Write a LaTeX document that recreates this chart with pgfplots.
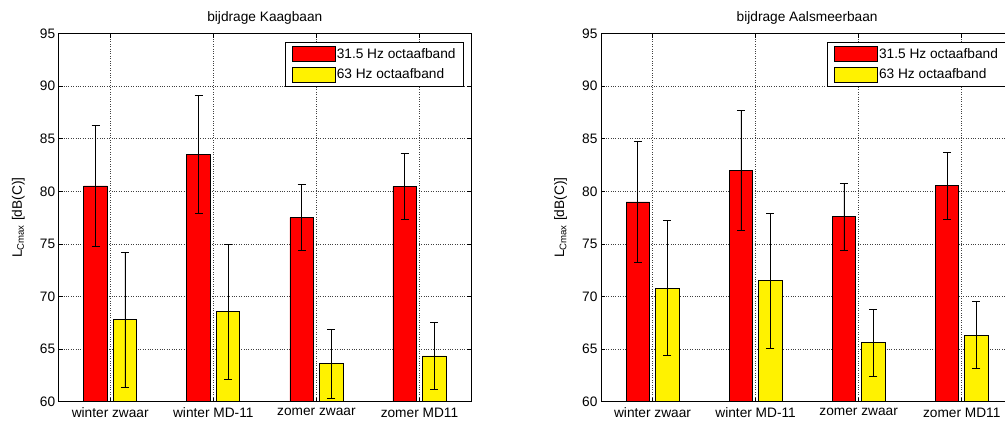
\documentclass[border=0pt]{standalone}
\usepackage{fontspec}
\setmainfont{Liberation Sans}
\usepackage{pgfplots}
\usepackage{pgfplotstable}
\pgfplotsset{compat=1.18}

\pgfplotstableread{
x r rE y yE
1 80.52 5.78 67.8 6.4
2 83.5 5.6 68.55 6.42
3 77.5 3.15 63.6 3.25
4 80.45 3.15 64.35 3.2
}\kaag
\pgfplotstableread{
x r rE y yE
1 79.0 5.73 70.8 6.42
2 82.0 5.74 71.5 6.42
3 77.6 3.17 65.6 3.19
4 80.55 3.17 66.33 3.19
}\aals

\newcommand\fs{\fontsize{13.7}{16}\selectfont}

\pgfplotsset{
  mystyle/.style={
    scale only axis, width=412.3pt, height=368pt,
    xmin=0.5, xmax=4.5, ymin=60, ymax=95,
    xtick={1,2,3,4},
    xticklabels={winter zwaar, winter MD-11, zomer zwaar, zomer MD11},
    ytick={60,65,...,95},
    tick align=inside, tick pos=both, major tick length=4pt,
    grid=major, grid style={dotted, black!75, line width=0.7pt},
    axis line style={black, line width=0.8pt},
    every tick/.style={black, line width=0.8pt},
    font=\fs,
    tick label style={font=\fs},
    xticklabel style={yshift=-2.5pt},
    label style={font=\fs},
    /pgf/number format/assume math mode=true,
    ylabel={L\textsubscript{Cmax} [dB(C)]},
    ylabel style={at={(axis description cs:-0.098,0.5)}, anchor=center},
    title style={font=\fs, at={(axis description cs:0.5,1)}, anchor=south, yshift=0pt},
    legend style={at={(0.983,0.978)}, anchor=north east, draw=black, line width=0.8pt,
      inner xsep=7pt, inner ysep=4pt, row sep=5pt, font=\fs,
      nodes={inner sep=1pt, anchor=west}},
    legend cell align=left,
  },
  mybar/.style={ybar, bar width=0.2286, bar shift=0, fill=#1, draw=black, line width=0.7pt,
    legend image code/.code={\draw[fill=#1, draw=black, line width=0.7pt] (0pt,-7.5pt) rectangle (43pt,7.5pt);},
    error bars/y dir=both, error bars/y explicit,
    error bars/error bar style={black, line width=0.7pt},
    error bars/error mark options={black, rotate=90, mark size=4pt, line width=0.7pt}},
}

\begin{document}
\begin{tikzpicture}
\useasboundingbox (0pt,0pt) rectangle (1005pt,421pt);
\begin{scope}
\clip (0pt,0pt) rectangle (1005pt,421pt);
\begin{axis}[mystyle, at={(58.7pt,19.3pt)}, anchor=south west, title={bijdrage Kaagbaan}]
\addplot[mybar=red] table[x expr=\thisrow{x}-0.1429, y=r, y error=rE] {\kaag};
\addplot[mybar=yellow] table[x expr=\thisrow{x}+0.1429, y=y, y error=yE] {\kaag};
\legend{31.5 Hz octaafband, 63 Hz octaafband}
\end{axis}
\begin{axis}[mystyle, at={(601pt,19.3pt)}, anchor=south west, title={bijdrage Aalsmeerbaan}]
\addplot[mybar=red] table[x expr=\thisrow{x}-0.1429, y=r, y error=rE] {\aals};
\addplot[mybar=yellow] table[x expr=\thisrow{x}+0.1429, y=y, y error=yE] {\aals};
\legend{31.5 Hz octaafband, 63 Hz octaafband}
\end{axis}
\end{scope}
\end{tikzpicture}
\end{document}
